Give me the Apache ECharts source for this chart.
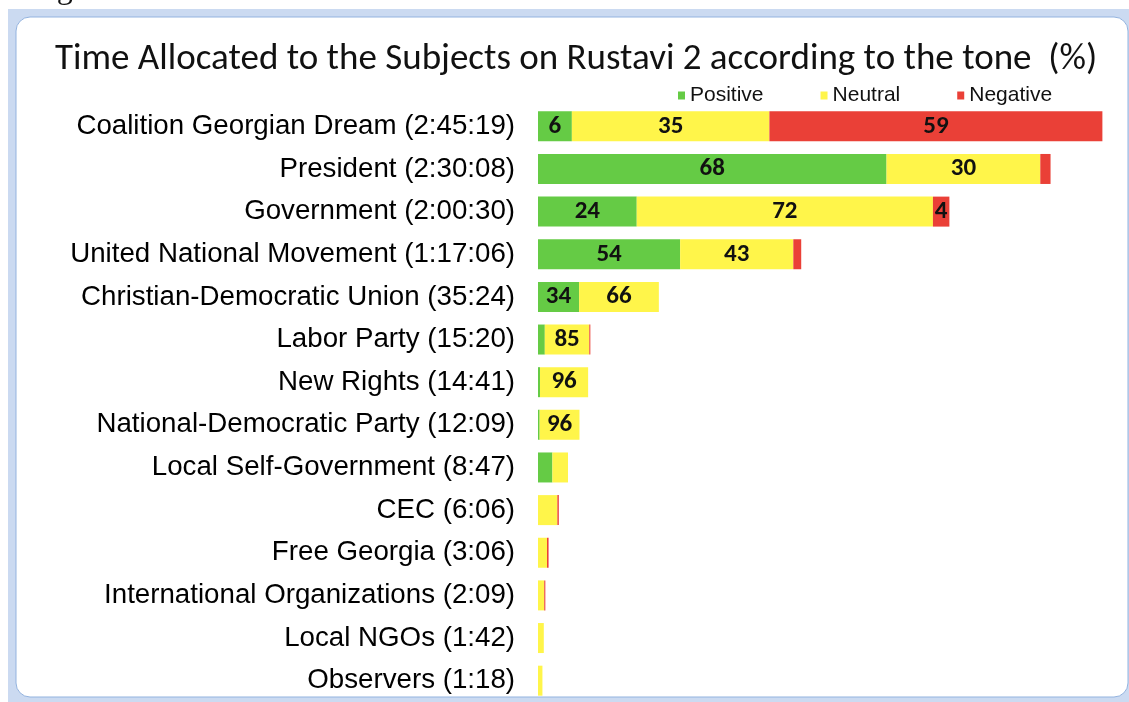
<!DOCTYPE html>
<html>
<head>
<meta charset="utf-8">
<script src="https://cdn.jsdelivr.net/npm/echarts/dist/echarts.min.js"></script>
<style>
html,body{margin:0;padding:0;background:#fff;}
#c{width:1129px;height:702px;}
</style>
</head>
<body>
<div id="c"></div>
<script>
// ---- data ----
var subjects = ['Coalition Georgian Dream', 'President', 'Government', 'United National Movement',
  'Christian-Democratic Union', 'Labor Party', 'New Rights', 'National-Democratic Party',
  'Local Self-Government', 'CEC', 'Free Georgia', 'International Organizations', 'Local NGOs', 'Observers'];
var durations = ['2:45:19', '2:30:08', '2:00:30', '1:17:06', '35:24', '15:20', '14:41', '12:09',
  '8:47', '6:06', '3:06', '2:09', '1:42', '1:18'];
var positivePct = [6, 68, 24, 54, 34, 13, 4, 4, 48, 0, 0, 0, 0, 0];
var neutralPct  = [35, 30, 72, 43, 66, 85, 96, 96, 52, 93, 85, 85, 100, 100];
var negativePct = [59, 2, 4, 3, 0, 2, 0, 0, 0, 7, 15, 15, 0, 0];
var seriesNames = ['Positive', 'Neutral', 'Negative'];
var colors = ['#65CB45', '#FFF54A', '#EA4037'];

function toSeconds(s) {
  var p = s.split(':').map(Number), t = 0;
  for (var i = 0; i < p.length; i++) t = t * 60 + p[i];
  return t;
}
var totals = durations.map(toSeconds);
var categories = subjects.map(function (n, i) { return n + ' (' + durations[i] + ')'; });
var pcts = [positivePct, neutralPct, negativePct];

function mkSeries(k) {
  return {
    name: seriesNames[k],
    type: 'bar',
    stack: 'total',
    barWidth: 30,
    itemStyle: { color: colors[k] },
    data: totals.map(function (t, i) {
      var seg = t * pcts[k][i] / 100;
      var show = t >= 700 && seg >= 280;
      return { value: seg, label: { show: show } };
    }),
    label: {
      show: true,
      position: 'inside',
      color: '#111',
      fontFamily: 'Carlito, "Open Sans", sans-serif',
      fontWeight: 'bold',
      fontSize: 25,
      formatter: function (p) { return pcts[k][p.dataIndex]; }
    }
  };
}

var chart = echarts.init(document.getElementById('c'));
chart.setOption({
  animation: false,
  backgroundColor: '#fff',
  graphic: [
    { type: 'rect', z: -10, shape: { x: 8, y: 9, width: 1130, height: 693 }, style: { fill: '#cbdaf1' } },
    { type: 'rect', z: -9, shape: { x: 16, y: 17, width: 1112, height: 680, r: 14 },
      style: { fill: '#fff', stroke: '#93b3df', lineWidth: 1 } },
    { type: 'text', z: -8, left: 30, top: -26,
      style: { text: 'Figure', font: '32px "Liberation Serif"', fill: '#111' } }
  ],
  title: {
    text: 'Time Allocated to the Subjects on Rustavi 2 according to the tone  (%)',
    left: 50,
    top: 36,
    textStyle: { fontFamily: 'Carlito, "Open Sans", sans-serif', fontWeight: 'normal', fontSize: 37, color: '#111' }
  },
  legend: {
    data: seriesNames,
    left: 678,
    top: 85,
    padding: 0,
    icon: 'rect',
    itemWidth: 7,
    itemHeight: 8,
    itemGap: 57,
    textStyle: { fontFamily: 'Liberation Sans', fontSize: 21, color: '#111' }
  },
  grid: { left: 538, right: 22, top: 105, bottom: 0 },
  xAxis: {
    type: 'value', min: 0, max: 10000,
    show: false
  },
  yAxis: {
    type: 'category',
    data: categories,
    inverse: true,
    axisLine: { show: false },
    axisTick: { show: false },
    axisLabel: { margin: 23, fontFamily: 'Liberation Sans', fontSize: 27.7, color: '#000' }
  },
  series: [mkSeries(0), mkSeries(1), mkSeries(2)]
});
</script>
</body>
</html>
